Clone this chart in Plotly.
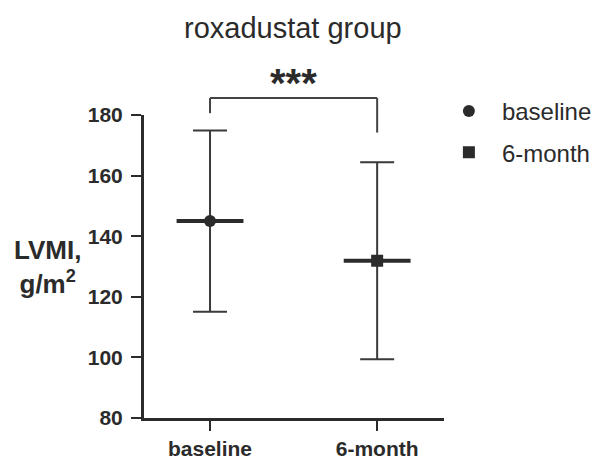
import plotly.graph_objects as go

categories = ["baseline", "6-month"]
means = [145.0, 131.9]
sds = [29.9, 32.5]
symbols = ["circle", "square"]
y_ticks = [80, 100, 120, 140, 160, 180]
title_text = "roxadustat group"
sig_text = "***"

Y_MIN, Y_MAX = 80, 180
INK = "#2b2b2b"
FONT = "Liberation Sans, Arial, Helvetica, sans-serif"
x_pos = list(range(len(categories)))


def to_paper(v):
    return (v - Y_MIN) / (Y_MAX - Y_MIN)


fig = go.Figure()

for i, cat in enumerate(categories):
    fig.add_trace(go.Scatter(
        x=[x_pos[i]], y=[means[i]], mode="markers",
        marker=dict(symbol=symbols[i], size=12, color=INK),
        error_y=dict(type="data", array=[sds[i]], width=17, thickness=2, color="#3a3a3a"),
        error_x=dict(type="constant", value=0.2, width=0, thickness=4, color=INK),
        showlegend=False, hoverinfo="skip", cliponaxis=False,
    ))

for i, cat in enumerate(categories):
    fig.add_trace(go.Scatter(
        x=[None], y=[None], mode="markers", name=cat, legendgroup=cat,
        marker=dict(symbol=symbols[i], size=12, color=INK),
    ))

# significance bracket
top_lvl, left_lvl, right_lvl = 185.6, 180.6, 174.2
line_style = dict(color="#444444", width=2)
fig.add_shape(type="line", xref="x", yref="paper", x0=x_pos[0], x1=x_pos[1],
              y0=to_paper(top_lvl), y1=to_paper(top_lvl), line=line_style)
fig.add_shape(type="line", xref="x", yref="paper", x0=x_pos[0], x1=x_pos[0],
              y0=to_paper(top_lvl), y1=to_paper(left_lvl), line=line_style)
fig.add_shape(type="line", xref="x", yref="paper", x0=x_pos[1], x1=x_pos[1],
              y0=to_paper(top_lvl), y1=to_paper(right_lvl), line=line_style)

fig.add_annotation(x=(x_pos[0] + x_pos[1]) / 2, xref="x", y=to_paper(top_lvl) - 0.028, yref="paper",
                   text="<b>%s</b>" % sig_text, showarrow=False, yanchor="bottom",
                   font=dict(size=40, color=INK, family=FONT))

fig.add_annotation(x=-0.323, xref="paper", y=0.5, yref="paper",
                   text="<b>LVMI,<br>g/m<sup>2</sup></b>", showarrow=False,
                   xanchor="center", yanchor="middle", align="center",
                   font=dict(size=26, color=INK, family=FONT))

fig.update_layout(
    width=594, height=460,
    margin=dict(l=144, r=150, t=115, b=42, autoexpand=False),
    paper_bgcolor="white", plot_bgcolor="white",
    font=dict(family=FONT, color=INK),
    title=dict(text=title_text, x=0.493, xanchor="center", y=0.94, yanchor="middle",
               font=dict(size=29, color=INK, family=FONT)),
    legend=dict(x=0.973, xanchor="left", y=1.086, yanchor="top",
                font=dict(size=24, color=INK, family=FONT),
                itemwidth=56, tracegroupgap=7, traceorder="grouped",
                bgcolor="rgba(0,0,0,0)"),
    xaxis=dict(range=[-0.395, 1.4], tickvals=x_pos, ticktext=categories,
               showgrid=False, zeroline=False, automargin=False,
               showline=True, linewidth=3, linecolor=INK,
               ticks="outside", ticklen=10, tickwidth=2, tickcolor=INK,
               tickfont=dict(size=21, color=INK, family=FONT, weight="bold")),
    yaxis=dict(range=[Y_MIN, Y_MAX], tickvals=y_ticks, showgrid=False, zeroline=False,
               automargin=False, ticklabelstandoff=4,
               showline=True, linewidth=3, linecolor=INK,
               ticks="outside", ticklen=10, tickwidth=2, tickcolor=INK,
               tickfont=dict(size=21, color=INK, family=FONT, weight="bold")),
    hovermode=False,
)

fig.write_html("out.html", config={"displayModeBar": False},
               post_script="document.body.style.margin='0';")
